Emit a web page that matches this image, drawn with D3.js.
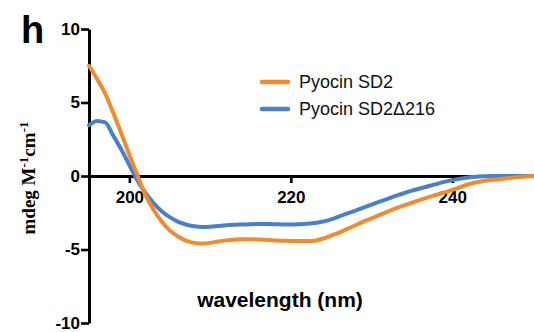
<!DOCTYPE html>
<html>
<head>
<meta charset="utf-8">
<script src="https://cdn.jsdelivr.net/npm/d3@7"></script>
<style>
  html, body { margin: 0; padding: 0; background: #fff; }
  svg { display: block; }
</style>
</head>
<body>
<svg id="chart" width="534" height="332"></svg>
<script>
// Wavelength grid (nm) for the CD spectra
const wavelength = [195,196,197,198,199,200,201,202,203,204,205,206,207,208,209,210,
  211,212,213,214,215,216,217,218,219,220,221,222,223,224,225,226,227,228,229,230,
  231,232,233,234,235,236,237,238,239,240,241,242,243,244,245,246,247,248,249,250];

// Pyocin SD2 (mdeg M^-1 cm^-1)
const sd2 = [7.5,6.6,5.6,4.3,2.9,1.45,0.05,-1.3,-2.3,-3.1,-3.7,-4.1,-4.4,-4.55,-4.6,-4.55,
  -4.45,-4.38,-4.33,-4.3,-4.3,-4.32,-4.35,-4.38,-4.4,-4.42,-4.43,-4.43,-4.4,-4.25,-4.05,
  -3.85,-3.6,-3.35,-3.1,-2.88,-2.65,-2.42,-2.2,-2.0,-1.82,-1.62,-1.45,-1.28,-1.12,-0.95,
  -0.75,-0.56,-0.42,-0.33,-0.26,-0.2,-0.14,-0.09,-0.04,0];

// Pyocin SD2Δ216 (mdeg M^-1 cm^-1)
const sd2d216 = [3.45,3.75,3.65,2.75,1.8,0.75,-0.3,-1.15,-1.85,-2.4,-2.8,-3.1,-3.3,-3.42,-3.47,-3.45,
  -3.4,-3.35,-3.32,-3.3,-3.28,-3.27,-3.27,-3.28,-3.3,-3.3,-3.28,-3.25,-3.2,-3.1,-2.95,
  -2.75,-2.55,-2.35,-2.15,-1.95,-1.75,-1.55,-1.35,-1.17,-1.0,-0.85,-0.7,-0.55,-0.4,-0.28,
  -0.18,-0.1,-0.05,-0.02,0,0,0,0,0,0];

const seriesNames = ["Pyocin SD2", "Pyocin SD2\u0394216"];
const seriesColors = ["#f28b2d", "#4a80c8"];
const xTicks = [200, 220, 240];
const yTicks = [-10, -5, 0, 5, 10];

const svg = d3.select("#chart");

const x = d3.scaleLinear().domain([195, 250]).range([89, 533]);
const y = d3.scaleLinear().domain([-10, 10]).range([323, 29]);

// Panel letter
svg.append("text")
  .attr("x", 21).attr("y", 43)
  .attr("font-family", "Liberation Sans, Arial, sans-serif")
  .attr("font-weight", "bold")
  .attr("font-size", 38)
  .text("h");

// Y axis (plain hyphen for negative labels)
const yAxis = svg.append("g")
  .attr("transform", `translate(${x(195)},0)`)
  .call(d3.axisLeft(y).tickValues(yTicks).tickSize(8).tickSizeOuter(0).tickPadding(1)
    .tickFormat(d => String(d)));
yAxis.select(".domain").attr("stroke", "#000").attr("stroke-width", 3);
yAxis.selectAll(".tick line").attr("stroke", "#000").attr("stroke-width", 2.6);
yAxis.selectAll(".tick text")
  .attr("font-family", "Liberation Sans, Arial, sans-serif")
  .attr("font-weight", "bold")
  .attr("font-size", 17)
  .attr("fill", "#000");

// X axis along y = 0
const xAxis = svg.append("g")
  .attr("transform", `translate(0,${y(0)})`)
  .call(d3.axisBottom(x).tickValues(xTicks).tickSize(7).tickSizeOuter(0).tickPadding(8));
xAxis.select(".domain").attr("stroke", "#000").attr("stroke-width", 3);
xAxis.selectAll(".tick line").attr("stroke", "#000").attr("stroke-width", 2.6);
xAxis.selectAll(".tick text")
  .attr("font-family", "Liberation Sans, Arial, sans-serif")
  .attr("font-weight", "bold")
  .attr("font-size", 17)
  .attr("fill", "#000");

// Spectra
const line = d3.line()
  .x(d => x(d[0]))
  .y(d => y(d[1]))
  .curve(d3.curveMonotoneX);

const series = [
  { name: seriesNames[1], color: seriesColors[1], values: sd2d216 },
  { name: seriesNames[0], color: seriesColors[0], values: sd2 }
];

series.forEach(s => {
  svg.append("path")
    .datum(wavelength.map((w, i) => [w, s.values[i]]))
    .attr("fill", "none")
    .attr("stroke", s.color)
    .attr("stroke-width", 4)
    .attr("stroke-linejoin", "round")
    .attr("stroke-linecap", "round")
    .attr("d", line);
});

// Legend
const legend = svg.append("g");
seriesNames.forEach((name, i) => {
  const ly = 82 + i * 27;
  legend.append("line")
    .attr("x1", 262).attr("x2", 288)
    .attr("y1", ly).attr("y2", ly)
    .attr("stroke", seriesColors[i])
    .attr("stroke-width", 4.5)
    .attr("stroke-linecap", "round");
  legend.append("text")
    .attr("x", 299).attr("y", ly + 6)
    .attr("font-family", "Liberation Sans, Arial, sans-serif")
    .attr("font-size", 18)
    .attr("fill", "#111")
    .text(name);
});

// X axis title
svg.append("text")
  .attr("x", 280).attr("y", 307)
  .attr("text-anchor", "middle")
  .attr("font-family", "Liberation Sans, Arial, sans-serif")
  .attr("font-weight", "bold")
  .attr("font-size", 21)
  .text("wavelength (nm)");

// Y axis title with superscripts
const yTitle = svg.append("text")
  .attr("transform", "translate(35,178) rotate(-90)")
  .attr("text-anchor", "middle")
  .attr("font-family", "Liberation Serif, Times New Roman, serif")
  .attr("font-weight", "bold")
  .attr("font-size", 19);
yTitle.append("tspan").text("mdeg M");
yTitle.append("tspan").attr("dy", -7).attr("font-size", 13).text("-1");
yTitle.append("tspan").attr("dy", 7).text("cm");
yTitle.append("tspan").attr("dy", -7).attr("font-size", 13).text("-1");
</script>
</body>
</html>
